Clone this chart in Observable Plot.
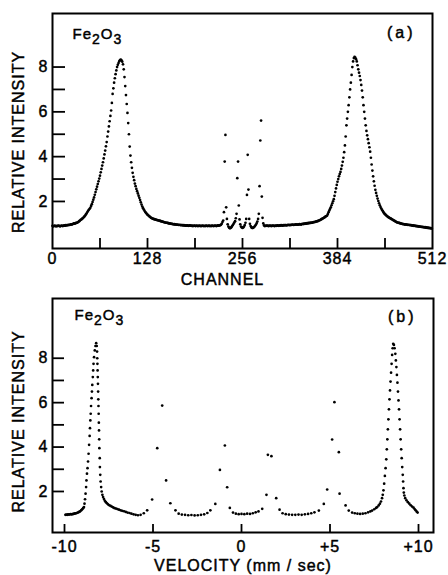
<!DOCTYPE html>
<html><head><meta charset="utf-8">
<script src="https://cdn.jsdelivr.net/npm/d3@7"></script>
<script src="https://cdn.jsdelivr.net/npm/@observablehq/plot@0.6"></script>
<style>
html,body{margin:0;padding:0;background:#fff;}
#chart svg{display:block;}
#chart text{stroke:#000;stroke-width:0.45px;}
</style></head><body><div id="chart"></div>
<script>
// Panel (a): relative intensity per channel (channel = index, 0..511)
const intensityA = [
0.91,0.89,0.90,0.92,0.90,0.89,0.91,0.90,0.92,0.91,0.89,0.90,0.92,0.91,0.90,0.92,
0.93,0.92,0.94,0.93,0.95,0.94,0.96,0.95,0.97,0.98,0.97,0.99,1.00,1.02,1.01,1.03,
1.04,1.05,1.07,1.09,1.12,1.15,1.18,1.20,1.23,1.26,1.29,1.33,1.37,1.42,1.47,1.53,
1.58,1.63,1.67,1.72,1.80,1.88,1.98,2.08,2.18,2.30,2.42,2.54,2.66,2.78,2.90,3.02,
3.15,3.30,3.45,3.60,3.75,3.92,4.10,4.27,4.46,4.65,4.90,5.12,5.35,5.58,5.82,6.06,
6.40,6.80,7.05,7.30,7.50,7.68,7.85,8.00,8.10,8.18,8.26,8.31,8.33,8.30,8.24,8.12,
7.90,7.55,7.15,6.75,6.35,5.95,5.50,5.00,4.45,4.05,3.75,3.50,3.28,3.10,2.95,2.80,
2.68,2.56,2.46,2.36,2.26,2.16,2.06,1.96,1.86,1.77,1.70,1.64,1.58,1.53,1.49,1.45,
1.41,1.38,1.35,1.32,1.29,1.27,1.25,1.23,1.22,1.21,1.20,1.19,1.18,1.17,1.16,1.15,
1.14,1.13,1.12,1.11,1.10,1.09,1.08,1.07,1.06,1.05,1.05,1.04,1.03,1.02,1.02,1.01,
1.00,1.00,0.99,0.98,0.99,0.97,0.98,0.96,0.97,0.96,0.95,0.96,0.95,0.94,0.95,0.94,
0.93,0.94,0.93,0.92,0.93,0.92,0.93,0.91,0.92,0.93,0.92,0.91,0.92,0.90,0.91,0.92,
0.91,0.90,0.92,0.91,0.90,0.91,0.92,0.90,0.91,0.90,0.92,0.91,0.90,0.91,0.90,0.92,
0.91,0.90,0.91,0.92,0.90,0.91,0.90,0.92,0.91,0.90,0.91,0.92,0.91,0.90,0.92,0.93,
0.92,0.93,0.94,0.96,1.00,1.08,1.15,1.52,3.78,4.97,1.74,1.22,0.98,0.88,0.83,0.80,
0.82,0.85,0.90,0.95,1.00,1.06,1.12,1.25,1.45,3.04,3.78,1.82,1.20,0.98,0.88,0.84,
0.82,0.84,0.88,0.95,1.05,1.22,2.29,4.08,2.53,1.22,1.00,0.90,0.84,0.82,0.82,0.84,
0.87,0.91,0.96,1.02,1.10,1.22,1.45,2.68,4.72,5.61,2.22,1.27,1.02,0.93,0.90,0.91,
0.92,0.91,0.92,0.90,0.91,0.92,0.91,0.90,0.92,0.91,0.92,0.90,0.91,0.92,0.91,0.93,
0.92,0.91,0.93,0.92,0.94,0.93,0.92,0.94,0.93,0.95,0.94,0.93,0.95,0.94,0.96,0.95,
0.94,0.96,0.95,0.97,0.96,0.95,0.97,0.96,0.98,0.97,0.96,0.98,0.97,0.99,0.98,0.97,
0.99,1.00,0.99,1.01,1.00,1.02,1.01,1.03,1.02,1.04,1.03,1.05,1.04,1.06,1.05,1.07,
1.08,1.08,1.09,1.10,1.11,1.12,1.13,1.15,1.16,1.18,1.20,1.22,1.24,1.26,1.28,1.30,
1.33,1.35,1.37,1.44,1.52,1.60,1.67,1.74,1.83,1.92,2.01,2.10,2.25,2.42,2.58,2.74,
2.88,3.00,3.12,3.22,3.32,3.45,3.60,3.77,3.95,4.20,4.50,4.90,5.40,5.70,6.00,6.30,
6.65,7.00,7.30,7.65,8.00,8.25,8.40,8.45,8.42,8.35,8.25,8.08,7.90,7.75,7.60,7.42,
7.20,6.95,6.65,6.30,6.00,5.70,5.40,5.15,4.95,4.78,4.60,4.42,4.22,3.95,3.65,3.38,
3.12,2.90,2.70,2.52,2.38,2.25,2.13,2.02,1.92,1.83,1.75,1.68,1.62,1.57,1.52,1.47,
1.43,1.40,1.37,1.34,1.31,1.29,1.27,1.25,1.23,1.21,1.19,1.17,1.15,1.13,1.11,1.09,
1.07,1.06,1.05,1.04,1.03,1.02,1.01,1.00,0.99,0.99,0.98,0.97,0.98,0.96,0.97,0.95,
0.96,0.95,0.94,0.95,0.93,0.92,0.93,0.91,0.92,0.90,0.91,0.89,0.90,0.88,0.89,0.87,
0.88,0.86,0.87,0.85,0.86,0.84,0.85,0.83,0.84,0.82,0.83,0.81,0.82,0.80,0.81,0.79
];
const channelTicks = [0, 128, 256, 384, 512];
const channelMinorTicks = [64, 128, 192, 256, 320, 384, 448];

// Panel (b): velocity (mm/sec) and relative intensity
const velocityB = [
-9.95,-9.90,-9.85,-9.80,-9.75,-9.70,-9.65,-9.60,-9.55,-9.50,-9.45,-9.40,-9.35,-9.30,-9.25,-9.20,-9.15,-9.10,-9.05,-9.00,-8.95,
-8.90,-8.87,-8.84,-8.81,-8.78,-8.76,-8.73,-8.70,-8.67,-8.64,-8.61,-8.58,-8.56,-8.54,-8.52,-8.50,-8.47,-8.45,-8.43,-8.40,-8.38,-8.36,-8.33,-8.29,-8.25,-8.21,
-8.18,-8.16,-8.15,-8.14,-8.13,-8.12,-8.11,-8.10,-8.09,-8.08,-8.07,-8.06,-8.05,-8.04,-8.03,-8.01,-8.00,-7.98,-7.96,-7.93,-7.90,-7.86,-7.82,-7.77,-7.72,-7.66,-7.60,-7.54,-7.47,-7.40,-7.33,-7.25,-7.17,-7.09,-7.01,
-6.92,-6.83,-6.74,-6.64,-6.54,-6.44,-6.33,-6.22,-6.10,-5.98,-5.85,-5.70,-5.52,-5.33,-5.05,-4.76,-4.48,-4.26,-4.02,-3.73,-3.55,-3.37,-3.19,-3.01,-2.83,-2.65,-2.47,-2.29,-2.11,-1.93,-1.76,
-1.48,-1.22,-0.94,-0.81,-0.66,-0.48,-0.32,-0.16,0.00,0.16,0.32,0.48,0.64,0.80,0.96,1.17,1.41,1.49,1.69,1.96,2.15,2.32,2.50,2.68,2.86,3.04,3.22,3.40,3.58,3.76,3.94,4.12,
4.37,4.65,4.84,5.12,5.25,5.50,5.54,5.88,6.06,6.25,6.40,6.55,6.70,6.85,7.00,7.15,7.28,7.38,7.50,7.60,7.67,7.75,7.82,7.88,7.94,
7.98,8.02,8.06,8.10,8.14,8.18,8.21,8.24,8.27,8.30,8.33,8.36,8.39,8.42,8.45,8.48,8.51,8.54,8.57,8.61,8.65,8.69,8.72,8.75,8.78,8.81,8.84,8.87,8.90,8.93,8.96,8.99,
9.02,9.05,9.08,9.11,9.13,9.15,9.17,9.20,9.25,9.32,9.40,9.48,9.56,9.64,9.72,9.78,9.84,9.90,9.95
];
const intensityB = [
0.95,0.96,0.95,0.97,0.96,0.97,0.98,0.97,0.98,0.99,1.00,1.01,1.02,1.03,1.05,1.07,1.09,1.12,1.16,1.20,1.25,
1.30,1.45,1.65,1.90,2.20,2.50,2.80,3.05,3.35,3.70,4.10,4.50,4.85,5.20,5.50,5.85,6.20,6.50,6.80,7.15,7.45,7.75,8.05,8.35,8.55,8.68,
8.55,8.30,8.00,7.75,7.45,7.15,6.85,6.50,6.15,5.85,5.50,5.10,4.75,4.35,3.95,3.50,3.10,2.75,2.45,2.20,2.00,1.85,1.75,1.66,1.58,1.52,1.47,1.42,1.38,1.35,1.32,1.28,1.25,1.23,1.21,
1.18,1.15,1.13,1.11,1.08,1.05,1.03,1.00,0.97,0.95,0.93,0.95,1.02,1.15,1.64,3.95,5.87,2.50,1.47,1.15,1.00,0.96,0.95,0.93,0.94,0.92,0.93,0.95,0.97,1.03,1.15,
1.44,2.97,4.07,2.19,1.26,1.05,1.00,0.98,0.99,0.98,1.00,0.99,1.02,1.06,1.10,1.22,1.85,3.65,3.59,1.70,1.18,1.02,0.98,0.96,0.95,0.95,0.96,0.95,0.97,0.99,1.02,1.06,
1.14,1.44,2.09,4.34,6.02,3.77,1.90,1.37,1.14,1.05,1.02,1.00,0.99,1.00,1.02,1.06,1.10,1.14,1.20,1.26,1.30,1.37,1.45,1.55,1.70,
1.85,2.05,2.35,2.70,3.05,3.45,3.90,4.35,4.80,5.25,5.70,6.15,6.55,6.95,7.35,7.75,8.15,8.45,8.65,8.60,8.45,8.20,7.90,7.60,7.25,6.90,6.50,6.10,5.70,5.25,4.80,4.35,
3.90,3.50,3.10,2.75,2.45,2.15,1.95,1.82,1.70,1.60,1.52,1.45,1.38,1.32,1.27,1.21,1.15,1.09,1.05
];
const velocityTicks = [-10, -5, 0, 5, 10];
const intensityTicks = [2, 4, 6, 8];
const intensityMinorTicks = [2, 3, 4, 5, 6, 7, 8];

const dataA = intensityA.map((v, i) => ({channel: i, intensity: v}));
const dataB = velocityB.map((v, i) => ({velocity: v, intensity: intensityB[i]}));

const font = "'Liberation Sans', Arial, sans-serif";
const W = 448;

function fixText(svg) {
  svg.querySelectorAll("text").forEach(t => {
    if (t.textContent === "Fe2O3") {
      t.innerHTML = 'Fe<tspan dy="5" font-size="14">2</tspan><tspan dy="-5">O</tspan><tspan dy="5" font-size="14">3</tspan>';
    }
    if (t.textContent === "(a)" || t.textContent === "(b)") {
      t.style.letterSpacing = "3px";
    }
  });
  return svg;
}

// Panel (a)
const hA = 288, mtA = 13, mbA = 40, mlA = 52, mrA = 16;
const fHA = hA - mtA - mbA, fWA = W - mlA - mrA;
const plotA = Plot.plot({
  width: W, height: hA, marginTop: mtA, marginBottom: mbA, marginLeft: mlA, marginRight: mrA,
  style: {fontFamily: font, fontSize: "16px", background: "white", color: "black", letterSpacing: "1px"},
  x: {domain: [0, 512], ticks: channelTicks, tickSize: 0, tickPadding: 4, label: null, tickFormat: d => String(d)},
  y: {domain: [-0.1, 10.39], ticks: intensityTicks, tickSize: 0, tickPadding: 4, label: null, tickFormat: d => String(d)},
  marks: [
    Plot.frame({stroke: "black", strokeWidth: 2}),
    Plot.tickX(channelMinorTicks, {x: d => d, insetTop: fHA - 10, stroke: "black", strokeWidth: 1.8}),
    Plot.tickY(intensityMinorTicks, {y: d => d, insetRight: fWA - 13, stroke: "black", strokeWidth: 1.8}),
    Plot.dot(dataA, {x: "channel", y: "intensity", r: 1.35, fill: "black", stroke: null}),
    Plot.text(["Fe2O3"], {text: d => d, frameAnchor: "top-left", dx: 20, dy: 25, lineAnchor: "bottom", fontSize: 15}),
    Plot.text(["(a)"], {text: d => d, frameAnchor: "top-right", dx: -17, dy: 24, lineAnchor: "bottom", textAnchor: "end", fontSize: 16}),
    Plot.text(["CHANNEL"], {text: d => d, frameAnchor: "bottom", dx: -20, dy: 36, lineAnchor: "bottom"}),
    Plot.text(["RELATIVE INTENSITY"], {text: d => d, frameAnchor: "left", dx: -34, dy: 11, rotate: -90, lineAnchor: "middle", textAnchor: "middle"})
  ]
});

// Panel (b)
const hB = 287, mtB = 10, mbB = 43, mlB = 52, mrB = 15;
const fHB = hB - mtB - mbB, fWB = W - mlB - mrB;
const plotB = Plot.plot({
  width: W, height: hB, marginTop: mtB, marginBottom: mbB, marginLeft: mlB, marginRight: mrB,
  style: {fontFamily: font, fontSize: "16px", background: "white", color: "black", letterSpacing: "1px"},
  x: {domain: [-10.678, 10.847], ticks: velocityTicks, tickSize: 0, tickPadding: 8, label: null,
      tickFormat: d => d > 0 ? "+" + d : d < 0 ? "-" + (-d) : "0"},
  y: {domain: [0.153, 10.69], ticks: intensityTicks, tickSize: 0, tickPadding: 4, label: null, tickFormat: d => String(d)},
  marks: [
    Plot.frame({stroke: "black", strokeWidth: 2}),
    Plot.tickX(velocityTicks, {x: d => d, insetTop: fHB - 8, stroke: "black", strokeWidth: 1.8}),
    Plot.tickY(intensityMinorTicks, {y: d => d, insetRight: fWB - 12, stroke: "black", strokeWidth: 1.8}),
    Plot.dot(dataB, {x: "velocity", y: "intensity", r: 1.35, fill: "black", stroke: null}),
    Plot.text(["Fe2O3"], {text: d => d, frameAnchor: "top-left", dx: 22, dy: 21, lineAnchor: "bottom", fontSize: 15}),
    Plot.text(["(b)"], {text: d => d, frameAnchor: "top-right", dx: -17, dy: 23, lineAnchor: "bottom", textAnchor: "end", fontSize: 16}),
    Plot.text(["VELOCITY (mm / sec)"], {text: d => d, frameAnchor: "bottom", dx: 0, dy: 38, lineAnchor: "bottom"}),
    Plot.text(["RELATIVE INTENSITY"], {text: d => d, frameAnchor: "left", dx: -34, dy: 6, rotate: -90, lineAnchor: "middle", textAnchor: "middle"})
  ]
});

const chart = document.getElementById("chart");
chart.appendChild(fixText(plotA));
chart.appendChild(fixText(plotB));
</script>
</body></html>
